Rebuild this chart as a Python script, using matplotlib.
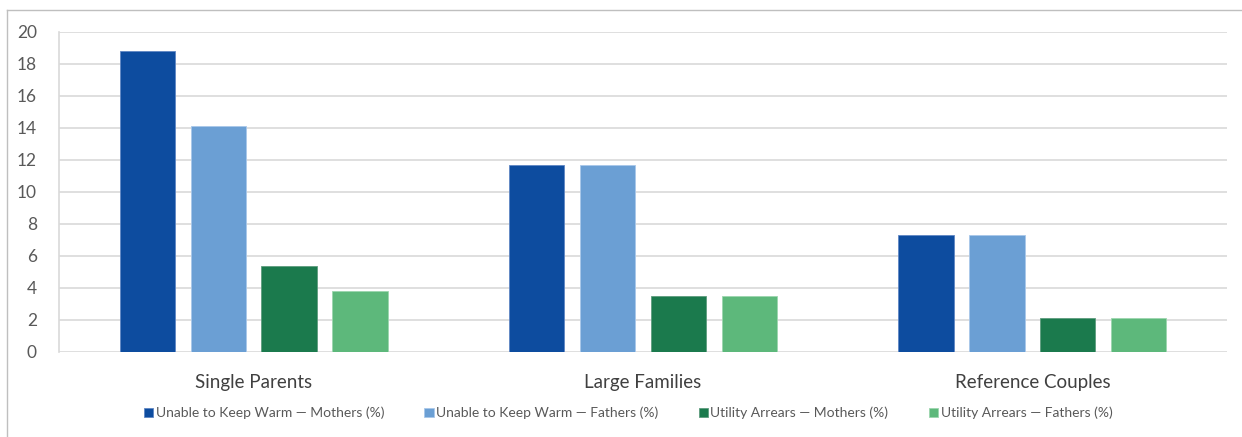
import matplotlib
matplotlib.use("Agg")
import matplotlib.pyplot as plt
import numpy as np
from matplotlib.lines import Line2D

categories = ["Single Parents", "Large Families", "Reference Couples"]
series_names = [
    "Unable to Keep Warm \u2014 Mothers (%)",
    "Unable to Keep Warm \u2014 Fathers (%)",
    "Utility Arrears \u2014 Mothers (%)",
    "Utility Arrears \u2014 Fathers (%)",
]
warm_mothers = [18.8, 11.7, 7.3]
warm_fathers = [14.1, 11.7, 7.3]
arrears_mothers = [5.4, 3.5, 2.1]
arrears_fathers = [3.8, 3.5, 2.1]
y_ticks = [0, 2, 4, 6, 8, 10, 12, 14, 16, 18, 20]

series = [warm_mothers, warm_fathers, arrears_mothers, arrears_fathers]
colors = ["#0D4C9F", "#6B9FD4", "#1B7A4D", "#5DB87B"]
edge_colors = ["#5F86C4", "#A9C8EA", "#5E9C7E", "#9CD6AE"]

plt.rcParams["font.family"] = ["Lato", "DejaVu Sans"]
text_color = "#595959"

fig = plt.figure(figsize=(12.42, 4.37), dpi=100)
ax = fig.add_axes([59 / 1242, 1 - 352 / 437, (1227 - 59) / 1242, (352 - 32) / 437])

x = np.arange(len(categories))
step = 0.182
width = 0.142
for i, (vals, c, ec) in enumerate(zip(series, colors, edge_colors)):
    ax.bar(x + (i - 1.5) * step, vals, width, color=c, edgecolor=ec,
           linewidth=0.6, label=series_names[i], zorder=3)

ax.set_xlim(-0.5, 2.5)
ax.set_ylim(0, 20)
ax.set_yticks(y_ticks)
ax.set_yticklabels([str(t) for t in y_ticks], fontsize=12.5, color=text_color)
ax.set_xticks(x)
ax.set_xticklabels(categories, fontsize=13.5, color="#404040")
ax.tick_params(axis="both", length=0)
ax.tick_params(axis="y", pad=16)
ax.tick_params(axis="x", pad=16)
ax.grid(axis="y", color="#D9D9D9", linewidth=1.2, zorder=0)
for s in ["top", "right", "bottom"]:
    ax.spines[s].set_visible(False)
ax.spines["left"].set_color("#D9D9D9")
ax.spines["left"].set_linewidth(1.2)

fig.legend(loc="center", bbox_to_anchor=(628 / 1242, 1 - 413 / 437), ncol=4,
           frameon=False, fontsize=10, handlelength=0.7, handleheight=0.7,
           handletextpad=0.15, columnspacing=2.9, labelcolor=text_color)

# Chart frame
fig.add_artist(Line2D([6.5 / 1242, 1], [1 - 10 / 437, 1 - 10 / 437],
                      color="#BFBFBF", linewidth=1, transform=fig.transFigure))
fig.add_artist(Line2D([6.5 / 1242, 6.5 / 1242], [0, 1 - 10 / 437],
                      color="#BFBFBF", linewidth=1, transform=fig.transFigure))

fig.savefig("out.png", dpi=100, facecolor="white")
